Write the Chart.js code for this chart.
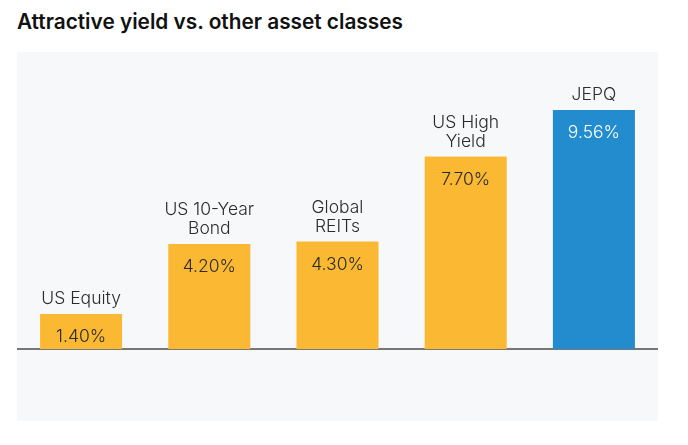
<!DOCTYPE html>
<html>
<head>
<meta charset="utf-8">
<script src="https://cdn.jsdelivr.net/npm/chart.js@4"></script>
<style>
  html, body { margin: 0; padding: 0; background: #fff; }
  body { width: 688px; height: 445px; position: relative; overflow: hidden; font-family: Inter, "Noto Sans", sans-serif; }
  #title { position: absolute; left: 17px; top: 10px; font-size: 20.8px; line-height: 24px; font-weight: 600; color: #111; }
  #panel { position: absolute; left: 17px; top: 52px; width: 641px; height: 369px; background: #f7f8fa; }
</style>
</head>
<body>
<div id="title">Attractive yield vs. other asset classes</div>
<div id="panel"><canvas id="c"></canvas></div>
<script>
  // Data
  const categories = [['US Equity'], ['US 10-Year', 'Bond'], ['Global', 'REITs'], ['US High', 'Yield'], ['JEPQ']];
  const yields = [1.40, 4.20, 4.30, 7.70, 9.56];
  const valueLabels = ['1.40%', '4.20%', '4.30%', '7.70%', '9.56%'];

  const YELLOW = '#fbb933';
  const BLUE = '#238ccf';
  const barColors = yields.map((_, i) => i === yields.length - 1 ? BLUE : YELLOW);
  const FONT = 'Inter, "Noto Sans", sans-serif';

  // Category names above each bar, value inside near its top
  const barText = {
    id: 'barText',
    afterDatasetsDraw(chart) {
      const { ctx } = chart;
      const meta = chart.getDatasetMeta(0);
      ctx.save();
      ctx.textAlign = 'center';
      ctx.textBaseline = 'alphabetic';
      ctx.font = '300 17.5px ' + FONT;
      meta.data.forEach((bar, i) => {
        ctx.fillStyle = i === yields.length - 1 ? '#ffffff' : '#2b2b2b';
        ctx.fillText(valueLabels[i], bar.x, bar.y + 28);
        const lines = categories[i];
        ctx.fillStyle = '#2b2b2b';
        lines.forEach((ln, j) => {
          const y = bar.y - 10 - (lines.length - 1 - j) * 19;
          ctx.fillText(ln, bar.x, y);
        });
      });
      ctx.restore();
    }
  };

  new Chart(document.getElementById('c'), {
    type: 'bar',
    data: {
      labels: categories.map(c => c.join(' ')),
      datasets: [{
        data: yields,
        backgroundColor: barColors,
        borderWidth: 0,
        barPercentage: 0.64,
        categoryPercentage: 1
      }]
    },
    options: {
      responsive: true,
      maintainAspectRatio: false,
      animation: false,
      layout: { padding: { top: 22, bottom: 72, left: 0, right: 0 } },
      plugins: { legend: { display: false }, tooltip: { enabled: false }, title: { display: false } },
      scales: {
        x: {
          grid: { display: false, drawTicks: false },
          border: { display: true, color: '#777777', width: 2 },
          ticks: { display: false }
        },
        y: {
          min: 0,
          max: 11,
          display: false
        }
      }
    },
    plugins: [barText]
  });
</script>
</body>
</html>
